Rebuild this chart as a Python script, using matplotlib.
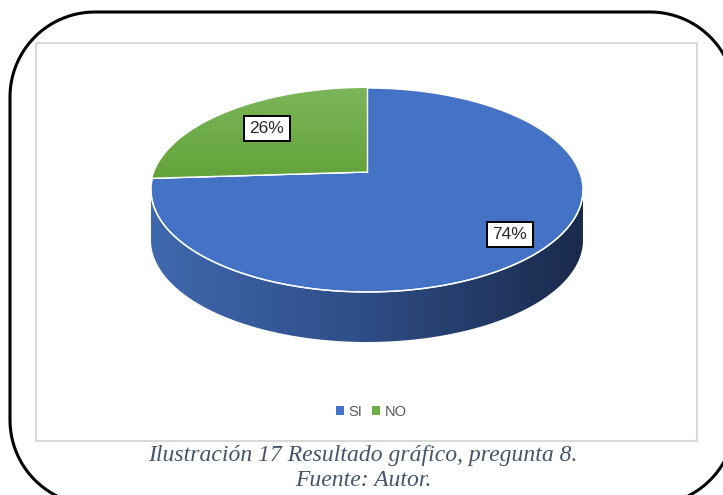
"""
3D pie chart: Resultado gráfico, pregunta 8
"""

import matplotlib.pyplot as plt
import numpy as np
from matplotlib.colors import LinearSegmentedColormap
from matplotlib.patches import Patch, Polygon, Rectangle

# Data
labels = ["SI", "NO"]
values = [74, 26]
colors = ["#4472c4", "#70ad47"]
caption = "Ilustración 17 Resultado gráfico, pregunta 8."
source = "Fuente: Autor."

W, H = 723, 495

# Pie geometry (pixel coordinates, y down)
cx, cy = 367, 172      # projected pie centre
A, B = 212.6, 98.8     # projection scale
p = 0.1765             # perspective factor
depth = 50


def project(u, v, dy=0.0):
    w = 1 - p * v
    return cx + A * u / w, cy + B * v / w + dy


def arc(phi0, phi1, r=1.0, n=200):
    phi = np.radians(np.linspace(phi0, phi1, n))
    return project(r * np.cos(phi), -r * np.sin(phi))


def rounded_rect(x0, y0, x1, y1, r, n=40):
    pts = []
    corners = [(x1 - r, y0 + r, -90, 0), (x1 - r, y1 - r, 0, 90),
               (x0 + r, y1 - r, 90, 180), (x0 + r, y0 + r, 180, 270)]
    for ccx, ccy, a0, a1 in corners:
        t = np.radians(np.linspace(a0, a1, n))
        pts.append(np.column_stack([ccx + r * np.cos(t), ccy + r * np.sin(t)]))
    return np.vstack(pts)


fig = plt.figure(figsize=(W / 100, H / 100), dpi=100)
ax = fig.add_axes([0, 0, 1, 1])
ax.set_xlim(0, W)
ax.set_ylim(H, 0)
ax.axis("off")

# Outer rounded frame and inner chart border
ax.add_patch(Polygon(rounded_rect(10, 12, 735, 505, 85), closed=True, fill=False,
                     edgecolor="black", linewidth=2.2, clip_on=False))
ax.add_patch(Rectangle((36, 43), 661, 398, fill=False, edgecolor="#d9d9d9", linewidth=1.5))

# Slice angles: start at 12 o'clock, go clockwise
fracs = np.array(values) / np.sum(values)
starts = 90 - np.concatenate([[0], np.cumsum(fracs)[:-1]]) * 360
ends = starts - fracs * 360

# Side wall (front part of the cylinder)
phi = np.radians(np.linspace(0, -180, 400))
u, v = np.cos(phi), -np.sin(phi)
front = v >= p
xs, ys = project(u[front], v[front])
order = np.argsort(xs)
xs, ys = xs[order], ys[order]
side_pts = np.vstack([np.column_stack([xs, ys]), np.column_stack([xs[::-1], ys[::-1] + depth])])
side = Polygon(side_pts, closed=True, facecolor="none", edgecolor="none")
ax.add_patch(side)
side_cmap = LinearSegmentedColormap.from_list("side", ["#4068ae", "#2e4d85", "#1a2a4b"])
grad = np.linspace(0, 1, 256).reshape(1, -1)
im = ax.imshow(grad, cmap=side_cmap, extent=[xs.min(), xs.max(), ys.max() + depth, ys.min()],
               aspect="auto", zorder=1)
im.set_clip_path(side)
ax.set_xlim(0, W)
ax.set_ylim(H, 0)

# Top faces
wedges = []
for s, e, c in zip(starts, ends, colors):
    ex, ey = arc(s, e)
    pts = np.vstack([[cx, cy], np.column_stack([ex, ey])])
    wedge = Polygon(pts, closed=True, facecolor=c, edgecolor="white", linewidth=1.0, zorder=2)
    ax.add_patch(wedge)
    wedges.append((wedge, pts))

# green gradient on the NO slice
green_wedge, gpts = wedges[1]
green_cmap = LinearSegmentedColormap.from_list("green", ["#7cb65a", "#63a33a"])
gim = ax.imshow(np.linspace(0, 1, 256).reshape(-1, 1), cmap=green_cmap,
                extent=[gpts[:, 0].min(), gpts[:, 0].max(), gpts[:, 1].max(), gpts[:, 1].min()],
                aspect="auto", zorder=2.5)
gim.set_clip_path(green_wedge)
ax.set_xlim(0, W)
ax.set_ylim(H, 0)

# white rim between top and side
ax.plot(xs, ys, color="white", linewidth=1.0, zorder=3)
for s in starts:
    ex, ey = project(np.cos(np.radians(s)), -np.sin(np.radians(s)))
    ax.plot([cx, ex], [cy, ey], color="white", linewidth=1.0, zorder=3)

# Data labels
label_r = [0.83, 0.70]
for s, e, val, r in zip(starts, ends, values, label_r):
    mid = np.radians((s + e) / 2)
    lx, ly = project(r * np.cos(mid), -r * np.sin(mid))
    ax.text(lx, ly, f"{val}%", ha="center", va="center", fontsize=12.5,
            family="Liberation Sans", color="#262626", zorder=4,
            bbox=dict(boxstyle="square,pad=0.3", facecolor="white", edgecolor="black", linewidth=1.4))

# Legend
handles = [Patch(facecolor=c, edgecolor="none", label=l) for c, l in zip(colors, labels)]
leg = ax.legend(handles=handles, loc="center", bbox_to_anchor=(371 / W, 1 - 412 / H), ncol=2,
                frameon=False, handlelength=0.55, handleheight=0.55, handletextpad=0.3,
                columnspacing=0.7, prop={"family": "Liberation Sans", "size": 10.5})
for t in leg.get_texts():
    t.set_color("#595959")

# Caption
ax.text(363, 456, caption, ha="center", va="center", fontsize=17, style="italic",
        family="Liberation Serif", color="#44546a")
ax.text(363, 480, source, ha="center", va="center", fontsize=17, style="italic",
        family="Liberation Serif", color="#44546a")

plt.savefig("out.png", dpi=100)
